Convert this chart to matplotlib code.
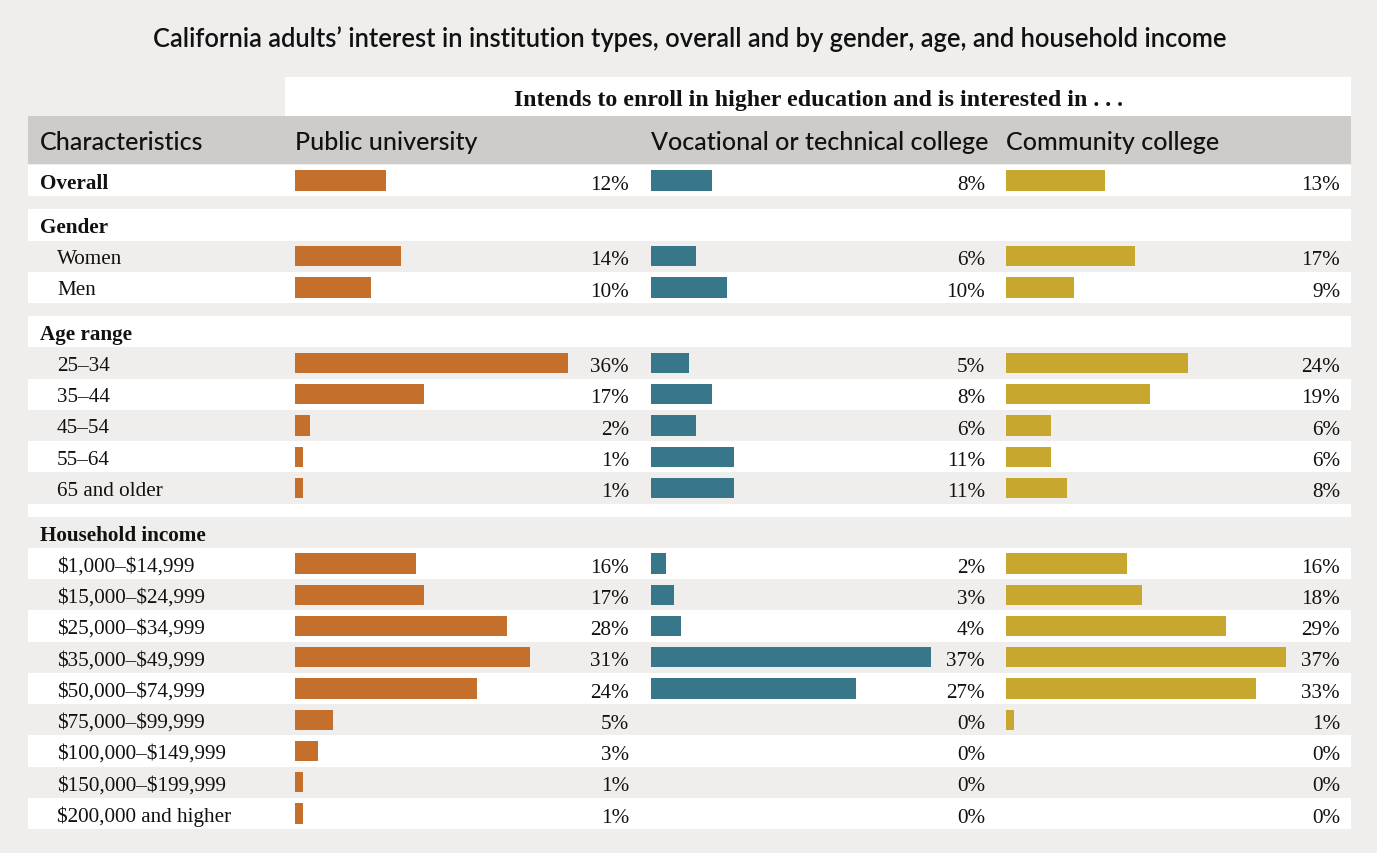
import matplotlib.pyplot as plt

plt.rcParams["text.parse_math"] = False

# colours
BG = "#efeeec"
WHITE = "#ffffff"
HEAD_GRAY = "#cdccca"
COLORS = ["#c4702c", "#387789", "#c8a72f"]
SANS = "Lato"
SERIF = "Liberation Serif"

title = "California adults\u2019 interest in institution types, overall and by gender, age, and household income"
super_header = "Intends to enroll in higher education and is interested in . . ."
columns = ["Public university", "Vocational or technical college", "Community college"]

gender_labels = ["Women", "Men"]
age_labels = ["25\u201334", "35\u201344", "45\u201354", "55\u201364", "65 and older"]
income_labels = ["$1,000\u2013$14,999", "$15,000\u2013$24,999", "$25,000\u2013$34,999",
                 "$35,000\u2013$49,999", "$50,000\u2013$74,999", "$75,000\u2013$99,999",
                 "$100,000\u2013$149,999", "$150,000\u2013$199,999", "$200,000 and higher"]

# overall, women, men, ages, incomes
public = [12, 14, 10, 36, 17, 2, 1, 1, 16, 17, 28, 31, 24, 5, 3, 1, 1]
vocational = [8, 6, 10, 5, 8, 6, 11, 11, 2, 3, 4, 37, 27, 0, 0, 0, 0]
community = [13, 17, 9, 24, 19, 6, 6, 8, 16, 18, 29, 37, 33, 1, 0, 0, 0]
series = [public, vocational, community]

W, H = 1377, 854
GAP = 0.42
XMAX = 44.06
ROW_FS = 15.2


def box(x0, y0, x1, y1):
    return [x0 / W, 1 - y1 / H, (x1 - x0) / W, (y1 - y0) / H]


# build the row list: (label, style, data index, height)
rows = [("Overall", "bold", 0, 1.0)]
k = 1
for head, labels in [("Gender", gender_labels), ("Age range", age_labels),
                     ("Household income", income_labels)]:
    rows.append((None, "gap", None, GAP))
    rows.append((head, "bold", None, 1.0))
    for lab in labels:
        rows.append((lab, "item", k, 1.0))
        k += 1

tops = []
t = 0.0
for r in rows:
    tops.append(t)
    t += r[3]
total = t

fig = plt.figure(figsize=(13.77, 8.54), dpi=100)
fig.patch.set_facecolor(BG)

fig.text(690 / W, 1 - 39 / H, title, ha="center", va="center",
         fontsize=18.4, family=SANS, fontweight="semibold", color="#111111")

# white super header
sup = fig.add_axes(box(285, 78, 1351, 117))
sup.set_facecolor(WHITE)
sup.set_xticks([]); sup.set_yticks([])
for s in sup.spines.values():
    s.set_visible(False)
sup.text(0.5, 0.42, super_header, ha="center", va="center", transform=sup.transAxes,
         fontsize=17.2, family=SERIF, fontweight="bold", color="#111111")

# gray column header
hdr = fig.add_axes(box(28, 117, 1351, 165))
hdr.set_facecolor(HEAD_GRAY)
hdr.set_xlim(28, 1351)
hdr.set_ylim(0, 1)
hdr.set_xticks([]); hdr.set_yticks([])
for s in hdr.spines.values():
    s.set_visible(False)
for x, lab in zip([40, 295, 651, 1006], ["Characteristics"] + columns):
    hdr.text(x, 0.47, lab, ha="left", va="center", fontsize=18, family=SANS,
             fontweight="medium", color="#111111")

# row bands and labels
ax_bg = fig.add_axes(box(28, 166, 1351, 830))
ax_bg.set_xlim(28, 1351)
ax_bg.set_ylim(total, 0)
ax_bg.axis("off")
for i, (lab, style, idx, h) in enumerate(rows):
    ax_bg.axhspan(tops[i], tops[i] + h, color=WHITE if i % 2 == 0 else BG, lw=0)
    if lab is None:
        continue
    yc = tops[i] + h / 2 + 0.08
    if style == "bold":
        ax_bg.text(40, yc, lab, ha="left", va="center", fontsize=ROW_FS, family=SERIF,
                   fontweight="bold", color="#111111")
    else:
        ax_bg.text(57, yc, lab, ha="left", va="center", fontsize=ROW_FS, family=SERIF,
                   color="#111111")

# bars per column
data_rows = [(tops[i] + r[3] / 2, r[2]) for i, r in enumerate(rows) if r[2] is not None]
ys = [y for y, _ in data_rows]
for j, x0 in enumerate([295, 651, 1006]):
    ax = fig.add_axes(box(x0, 166, x0 + 334, 830))
    ax.set_xlim(0, XMAX)
    ax.set_ylim(total, 0)
    ax.axis("off")
    ax.patch.set_alpha(0)
    vals = [series[j][idx] for _, idx in data_rows]
    ax.barh(ys, vals, height=0.65, color=COLORS[j], lw=0)
    for y, v in zip(ys, vals):
        ax.text(XMAX, y + 0.12, f"{v}%", ha="right", va="center", fontsize=ROW_FS,
                family=SERIF, color="#111111")

fig.savefig("out.png", dpi=100, facecolor=BG)
